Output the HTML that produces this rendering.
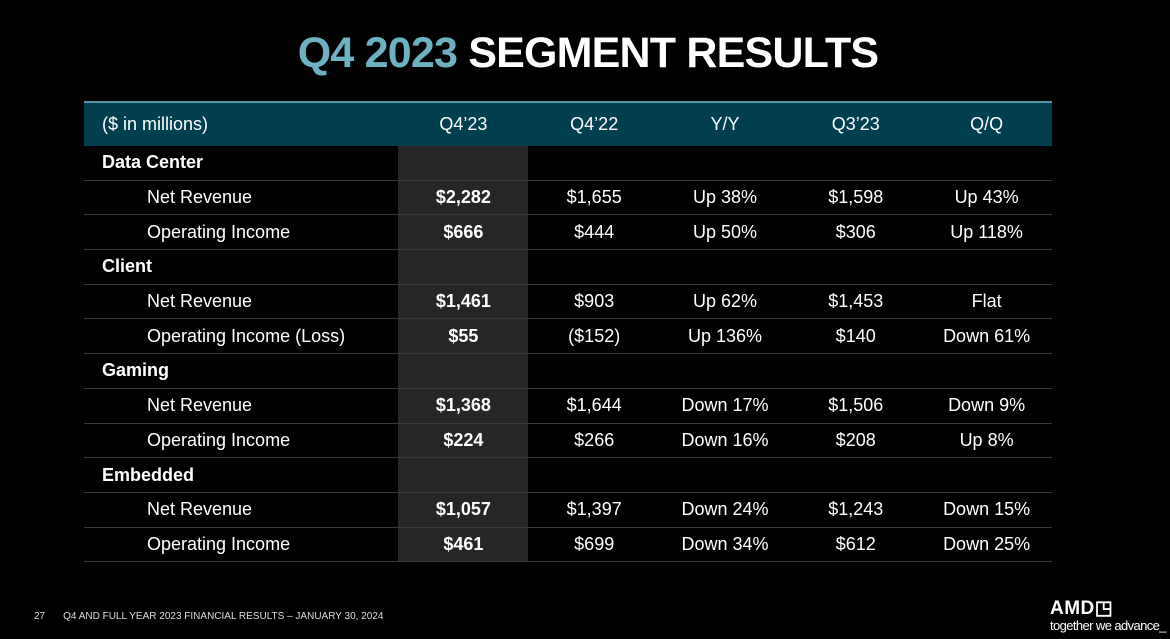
<!DOCTYPE html>
<html><head><meta charset="utf-8"><style>
body{margin:0;width:1170px;height:639px;background:#000;overflow:hidden;font-family:"Liberation Sans",sans-serif;color:#fff;position:relative}
#title{position:absolute;top:29px;left:0;width:1176px;text-align:center;font-size:43px;font-weight:bold;letter-spacing:-0.8px}
#title span{color:#6db2c3}
#tbl{position:absolute;left:84px;top:101px;width:968px}
.topline{height:2px;background:#4f95a8}
.hdr{height:43px;background:#003f50;display:flex;align-items:center;font-size:18px}
.row{height:34.7px;display:flex;align-items:center;font-size:18px;border-bottom:1px solid #3a3a3a;box-sizing:border-box}
.lab{width:314px;padding-left:18px;box-sizing:border-box}
.ind{padding-left:63px}
.c{width:130.8px;text-align:center}
.b{font-weight:bold}
#grey{position:absolute;left:398px;top:146px;width:130px;height:416px;background:#262626}
#foot{position:absolute;left:34px;top:611px;font-size:10px;color:#ddd;white-space:nowrap}
#foot b{font-weight:normal;margin-left:18px}
#logo{position:absolute;left:1050px;top:599px;text-align:left;white-space:nowrap}
#logo .a{font-size:19px;font-weight:bold;letter-spacing:0.5px;line-height:20px}
#logo .t{font-size:13px;letter-spacing:-0.6px;line-height:14px}
</style></head><body>
<div id="title"><span>Q4 2023</span> SEGMENT RESULTS</div>
<div id="grey"></div>
<div id="tbl">
<div class="topline"></div>
<div class="hdr"><div class="lab">($ in millions)</div><div class="c">Q4’23</div><div class="c">Q4’22</div><div class="c">Y/Y</div><div class="c">Q3’23</div><div class="c">Q/Q</div></div>
<div class="row b"><div class="lab">Data Center</div></div>
<div class="row"><div class="lab ind">Net Revenue</div><div class="c b">$2,282</div><div class="c">$1,655</div><div class="c">Up 38%</div><div class="c">$1,598</div><div class="c">Up 43%</div></div>
<div class="row"><div class="lab ind">Operating Income</div><div class="c b">$666</div><div class="c">$444</div><div class="c">Up 50%</div><div class="c">$306</div><div class="c">Up 118%</div></div>
<div class="row b"><div class="lab">Client</div></div>
<div class="row"><div class="lab ind">Net Revenue</div><div class="c b">$1,461</div><div class="c">$903</div><div class="c">Up 62%</div><div class="c">$1,453</div><div class="c">Flat</div></div>
<div class="row"><div class="lab ind">Operating Income (Loss)</div><div class="c b">$55</div><div class="c">($152)</div><div class="c">Up 136%</div><div class="c">$140</div><div class="c">Down 61%</div></div>
<div class="row b"><div class="lab">Gaming</div></div>
<div class="row"><div class="lab ind">Net Revenue</div><div class="c b">$1,368</div><div class="c">$1,644</div><div class="c">Down 17%</div><div class="c">$1,506</div><div class="c">Down 9%</div></div>
<div class="row"><div class="lab ind">Operating Income</div><div class="c b">$224</div><div class="c">$266</div><div class="c">Down 16%</div><div class="c">$208</div><div class="c">Up 8%</div></div>
<div class="row b"><div class="lab">Embedded</div></div>
<div class="row"><div class="lab ind">Net Revenue</div><div class="c b">$1,057</div><div class="c">$1,397</div><div class="c">Down 24%</div><div class="c">$1,243</div><div class="c">Down 15%</div></div>
<div class="row"><div class="lab ind">Operating Income</div><div class="c b">$461</div><div class="c">$699</div><div class="c">Down 34%</div><div class="c">$612</div><div class="c">Down 25%</div></div>
</div>
<div id="foot">27<b>Q4 AND FULL YEAR 2023 FINANCIAL RESULTS – JANUARY 30, 2024</b></div>
<div id="logo"><div class="a">AMD&#x25F3;</div><div class="t">together we advance_</div></div>
</body></html>
